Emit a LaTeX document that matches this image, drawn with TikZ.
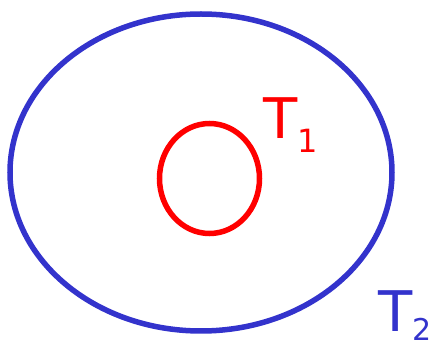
\documentclass[tikz,border=0pt]{standalone}
\usepackage{fontspec}
\setmainfont{DejaVu Sans}
\definecolor{tblue}{HTML}{3333CC}
\definecolor{tred}{HTML}{FF0000}
\begin{document}
\begin{tikzpicture}[x=1pt,y=-1pt,
  ring/.style={line width=5.5pt},
  lbl/.style={inner sep=0pt,anchor=base west,font=\fontsize{56}{60}\selectfont}]
\useasboundingbox (0,0) rectangle (432,347);
\draw[ring,tblue] (201,172.5) ellipse [x radius=191, y radius=158.5];
\draw[ring,tred] (209.5,178.5) ellipse [x radius=50, y radius=55];
\node[lbl,tred] (t1) at (263,139) {T\raisebox{-14pt}{\fontsize{32}{36}\selectfont 1}};
\node[lbl,tblue] (t2) at (378,332) {T\raisebox{-8.5pt}{\fontsize{30}{34}\selectfont 2}};
\end{tikzpicture}
\end{document}
